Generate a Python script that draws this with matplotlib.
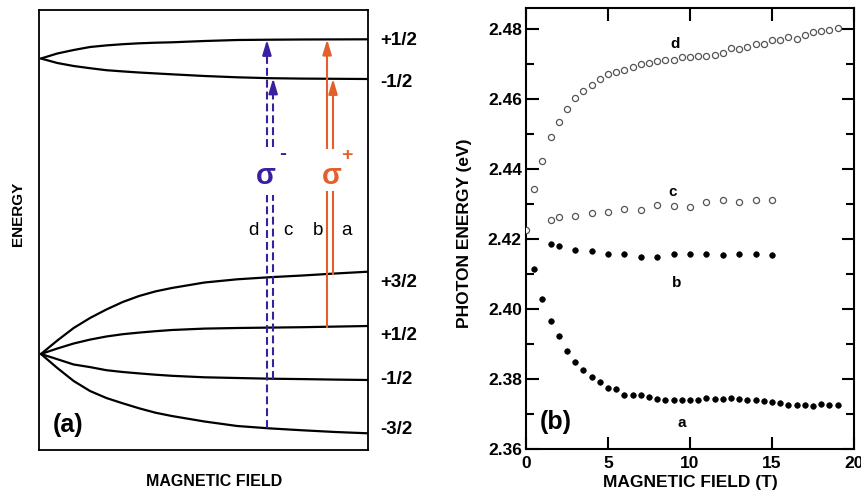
import matplotlib
matplotlib.use("Agg")
import numpy as np
import matplotlib.pyplot as plt
from matplotlib.ticker import MultipleLocator, FormatStrFormatter

plt.rcParams['font.family'] = ['Liberation Sans', 'DejaVu Sans']
plt.rcParams['font.weight'] = 'bold'

BLUE = '#3b1f9e'
ORANGE = '#e3602c'

# ---------------- Panel (a): schematic Zeeman levels ----------------
field_a = [0.0, 0.05, 0.1, 0.15, 0.2, 0.25, 0.3, 0.35, 0.4, 0.5, 0.6, 0.7, 0.8, 0.9, 1.0]
upper_p12 = [391.5, 396.5, 400, 403, 404.6, 405.8, 406.7, 407.3, 407.7, 409, 410, 410.3, 410.5, 410.6, 410.7]
upper_m12 = [391.5, 387, 384, 381.8, 379.8, 378.6, 377.5, 376.6, 375.7, 374, 372.7, 371.8, 371.4, 371.2, 371]
lower_p32 = [96, 109.5, 122, 132, 140.5, 148, 154, 158.6, 162, 167.5, 170.7, 172.8, 174.5, 176.5, 178.3]
lower_p12 = [96, 101.5, 106.5, 110.4, 113.5, 115.8, 117.4, 118.8, 120, 121.4, 122, 122.4, 122.8, 123.4, 124]
lower_m12 = [96, 90.8, 85.5, 82.9, 79.8, 78, 76.6, 75.3, 74.2, 72.7, 72, 71.3, 70.9, 70.4, 70]
lower_m32 = [96, 82, 69, 59, 52, 46.7, 41.7, 37.3, 34, 28.5, 24, 21.6, 19.7, 18, 16.7]

level_labels = ['+1/2', '-1/2', '+3/2', '+1/2', '-1/2', '-3/2']
level_label_y = [409.5, 368, 168, 115, 71, 21]

trans_names = ['d', 'c', 'b', 'a']
trans_field = [0.691, 0.710, 0.875, 0.893]
trans_label_field = [0.651, 0.754, 0.846, 0.935]

# ---------------- Panel (b): measured photon energies ----------------
field_ad = [0.5, 1.0, 1.5, 2.0, 2.5, 3.0, 3.5, 4.0, 4.5, 5.0,
            5.5, 6.0, 6.5, 7.0, 7.5, 8.0, 8.5, 9.0, 9.5, 10.0,
            10.5, 11.0, 11.5, 12.0, 12.5, 13.0, 13.5, 14.0, 14.5, 15.0,
            15.5, 16.0, 16.5, 17.0, 17.5, 18.0, 18.5, 19.0]
energy_d = [2.4343, 2.4424, 2.4493, 2.4534, 2.4572, 2.4603, 2.4625, 2.4642, 2.4659, 2.4672,
            2.4679, 2.4684, 2.4693, 2.4700, 2.4704, 2.4709, 2.4711, 2.4712, 2.4722, 2.4720,
            2.4724, 2.4725, 2.4727, 2.4732, 2.4746, 2.4743, 2.4749, 2.4758, 2.4757, 2.4769,
            2.4769, 2.4777, 2.4772, 2.4784, 2.4793, 2.4794, 2.4797, 2.4805]
energy_a = [2.4116, 2.4029, 2.3967, 2.3922, 2.3881, 2.3850, 2.3827, 2.3807, 2.3791, 2.3774,
            2.3771, 2.3753, 2.3753, 2.3753, 2.3749, 2.3743, 2.3741, 2.3741, 2.3741, 2.3741,
            2.3741, 2.3747, 2.3743, 2.3743, 2.3747, 2.3743, 2.3741, 2.3739, 2.3737, 2.3735,
            2.3731, 2.3727, 2.3726, 2.3726, 2.3724, 2.3729, 2.3726, 2.3726]
field_bc = [1.5, 2.0, 3.0, 4.0, 5.0, 6.0, 7.0, 8.0, 9.0, 10.0, 11.0, 12.0, 13.0, 14.0, 15.0]
energy_c = [2.4255, 2.4262, 2.4267, 2.4276, 2.4278, 2.4286, 2.4284, 2.4299, 2.4295, 2.4291,
            2.4307, 2.4312, 2.4307, 2.4313, 2.4312]
energy_b = [2.4187, 2.4181, 2.4169, 2.4167, 2.4158, 2.4158, 2.4150, 2.4150, 2.4158, 2.4158,
            2.4158, 2.4155, 2.4158, 2.4158, 2.4155]
field_zero = [0.0]
energy_zero = [2.4225]

fig = plt.figure(figsize=(8.62, 4.93), dpi=100)

# ===== Panel (a)
ax1 = fig.add_axes([0.04524, 0.08722, 0.38167, 0.89249])
ax1.set_xlim(-0.006, 1.0)
ax1.set_ylim(0, 440)
ax1.set_xticks([])
ax1.set_yticks([])
for s in ax1.spines.values():
    s.set_linewidth(1.3)

for curve in [upper_p12, upper_m12, lower_p32, lower_p12, lower_m12, lower_m32]:
    ax1.plot(field_a, curve, color='black', lw=1.6, solid_capstyle='round',
             solid_joinstyle='round', zorder=2)

for lab, y in zip(level_labels, level_label_y):
    ax1.text(1.037, y, lab, fontsize=13.5, fontweight='bold', ha='left', va='center',
             clip_on=False)

starts = [np.interp(trans_field[0], field_a, lower_m32),
          np.interp(trans_field[1], field_a, lower_m12),
          np.interp(trans_field[2], field_a, lower_p12),
          np.interp(trans_field[3], field_a, lower_p32)]
ends = [np.interp(trans_field[0], field_a, upper_p12),
        np.interp(trans_field[1], field_a, upper_m12),
        np.interp(trans_field[2], field_a, upper_p12),
        np.interp(trans_field[3], field_a, upper_m12)]
colors = [BLUE, BLUE, ORANGE, ORANGE]
dashed = [True, True, False, False]
gaps = [(255, 303), (255, 303), (258, 302), (258, 302)]

for x, y0, y1, c, dsh, g in zip(trans_field, starts, ends, colors, dashed, gaps):
    ls = (0, (3.8, 1.9)) if dsh else '-'
    ax1.plot([x, x], [y0, g[0]], color=c, lw=1.5, linestyle=ls, zorder=3)
    ax1.plot([x, x], [g[1], y1 - 11], color=c, lw=1.5, linestyle=ls, zorder=3)
    ax1.annotate('', xy=(x, y1), xytext=(x, y1 - 13),
                 arrowprops=dict(arrowstyle='-|>,head_length=0.9,head_width=0.27',
                                 color=c, lw=1.5, shrinkA=0, shrinkB=0,
                                 mutation_scale=10), zorder=4)

for name, xl in zip(trans_names, trans_label_field):
    ax1.text(xl, 215, name, fontsize=13.5, fontweight='normal', ha='center',
             va='baseline')

ax1.text(0.688, 274, 'σ', fontsize=21, fontweight='bold', color=BLUE,
         ha='center', va='center')
ax1.text(0.740, 297, '-', fontsize=15, fontweight='bold', color=BLUE,
         ha='center', va='center')
ax1.text(0.889, 274, 'σ', fontsize=21, fontweight='bold', color=ORANGE,
         ha='center', va='center')
ax1.text(0.935, 295, '+', fontsize=14, fontweight='bold', color=ORANGE,
         ha='center', va='center')

ax1.text(0.037, 25, '(a)', fontsize=18, fontweight='bold', ha='left', va='center')

fig.text(18 / 862, 1 - 214 / 493, 'ENERGY', rotation=90, fontsize=11,
         fontweight='bold', ha='center', va='center')
fig.text(214 / 862, 1 - 482 / 493, 'MAGNETIC FIELD', fontsize=11.5,
         fontweight='bold', ha='center', va='center')

# ===== Panel (b)
ax2 = fig.add_axes([0.61021, 0.08925, 0.38051, 0.89452])
ax2.set_xlim(0, 20)
ax2.set_ylim(2.36, 2.4861)

open_kw = dict(linestyle='none', marker='o', markersize=4.4, markerfacecolor='white',
               markeredgecolor='#555555', markeredgewidth=0.9, zorder=3)
fill_kw = dict(linestyle='none', marker='o', markersize=4.0, markerfacecolor='black',
               markeredgecolor='black', markeredgewidth=0.5, zorder=3)

ax2.plot(field_ad, energy_d, **open_kw)
ax2.plot(field_bc, energy_c, **open_kw)
ax2.plot(field_zero, energy_zero, **open_kw)
ax2.plot(field_bc, energy_b, **fill_kw)
ax2.plot(field_ad, energy_a, **fill_kw)

ax2.xaxis.set_major_locator(MultipleLocator(5))
ax2.yaxis.set_major_locator(MultipleLocator(0.02))
ax2.yaxis.set_minor_locator(MultipleLocator(0.01))
ax2.yaxis.set_major_formatter(FormatStrFormatter('%.2f'))
ax2.tick_params(which='both', direction='in', top=True, right=True, width=1.5)
ax2.tick_params(which='major', length=9, labelsize=12.5)
ax2.tick_params(which='minor', length=6)
ax2.tick_params(axis='x', pad=5)
ax2.tick_params(axis='y', pad=3)
for s in ax2.spines.values():
    s.set_linewidth(1.5)

ax2.text(9.09, 2.4758, 'd', fontsize=11, fontweight='bold', ha='center', va='center')
ax2.text(8.96, 2.4336, 'c', fontsize=11, fontweight='bold', ha='center', va='center')
ax2.text(9.2, 2.4075, 'b', fontsize=11, fontweight='bold', ha='center', va='center')
ax2.text(9.5, 2.3673, 'a', fontsize=11, fontweight='bold', ha='center', va='center')
ax2.text(0.85, 2.3676, '(b)', fontsize=18, fontweight='bold', ha='left', va='center')

fig.text(465 / 862, 1 - 233 / 493, 'PHOTON ENERGY (eV)', rotation=90, fontsize=12.5,
         fontweight='bold', ha='center', va='center')
fig.text(690 / 862, 1 - 482 / 493, 'MAGNETIC FIELD (T)', fontsize=12.5,
         fontweight='bold', ha='center', va='center')

fig.savefig('out.png', dpi=100)
